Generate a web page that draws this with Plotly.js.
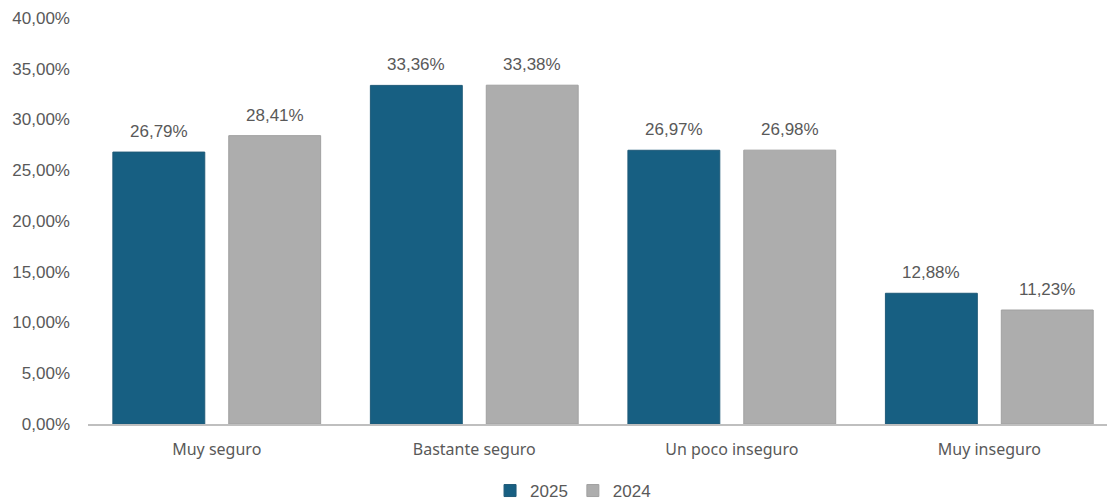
<!DOCTYPE html>
<html>
<head>
<meta charset="utf-8">
<script src="https://cdn.plot.ly/plotly-3.0.1.min.js"></script>
<style>html,body{margin:0;padding:0;background:#fff;}#chart{width:1107px;height:502px;}</style>
</head>
<body>
<div id="chart"></div>
<script>
const categories = ["Muy seguro", "Bastante seguro", "Un poco inseguro", "Muy inseguro"];
const values2025 = [26.79, 33.36, 26.97, 12.88];
const values2024 = [28.41, 33.38, 26.98, 11.23];
const yTickVals = [0, 5, 10, 15, 20, 25, 30, 35, 40];
const yTickText = ["0,00%", "5,00%", "10,00%", "15,00%", "20,00%", "25,00%", "30,00%", "35,00%", "40,00%"];

const fmt = v => v.toFixed(2).replace('.', ',') + '%';
const labelFont = {family: 'Liberation Sans, Arial, sans-serif', size: 17, color: '#595959'};

const traces = [
  {type: 'bar', name: '2025', x: categories, y: values2025,
   marker: {color: '#175F82', line: {color: '#1F5A78', width: 1}}},
  {type: 'bar', name: '2024', x: categories, y: values2024,
   marker: {color: '#ADADAD', line: {color: '#A0A0A0', width: 1}}}
];

// data labels as annotations, offset to each bar's slot
const slotPx = 58;
const annotations = [];
categories.forEach((c, i) => {
  annotations.push({x: c, y: values2025[i], text: fmt(values2025[i]), xshift: -slotPx, yshift: 9,
    yanchor: 'bottom', showarrow: false, font: labelFont});
  annotations.push({x: c, y: values2024[i], text: fmt(values2024[i]), xshift: slotPx, yshift: 9,
    yanchor: 'bottom', showarrow: false, font: labelFont});
});

const layout = {
  width: 1107, height: 502,
  margin: {l: 88, r: 0, t: 18, b: 78, autoexpand: false},
  paper_bgcolor: '#fff', plot_bgcolor: '#fff',
  barmode: 'group', bargap: 0.1, bargroupgap: 0.207,
  showlegend: true,
  legend: {orientation: 'h', x: 0.476, xanchor: 'center', y: -0.165, yanchor: 'middle',
           font: {family: 'Liberation Sans, Arial, sans-serif', size: 17, color: '#595959'}, itemwidth: 30},
  annotations: annotations,
  xaxis: {range: [-0.5, 3.457], showline: true, linecolor: '#BFBFBF', linewidth: 2, ticks: '', showgrid: false,
          ticklabelstandoff: 10, automargin: false,
          tickfont: {family: 'Noto Sans, sans-serif', size: 16, color: '#595959'}},
  yaxis: {range: [0, 40], tickvals: yTickVals, ticktext: yTickText, showgrid: false, zeroline: false,
          showline: false, ticks: '', ticklen: 0, ticklabelstandoff: 17, automargin: false,
          tickfont: {family: 'Liberation Sans, Arial, sans-serif', size: 17, color: '#595959'}}
};

Plotly.newPlot('chart', traces, layout, {displayModeBar: false, staticPlot: true});
</script>
</body>
</html>
